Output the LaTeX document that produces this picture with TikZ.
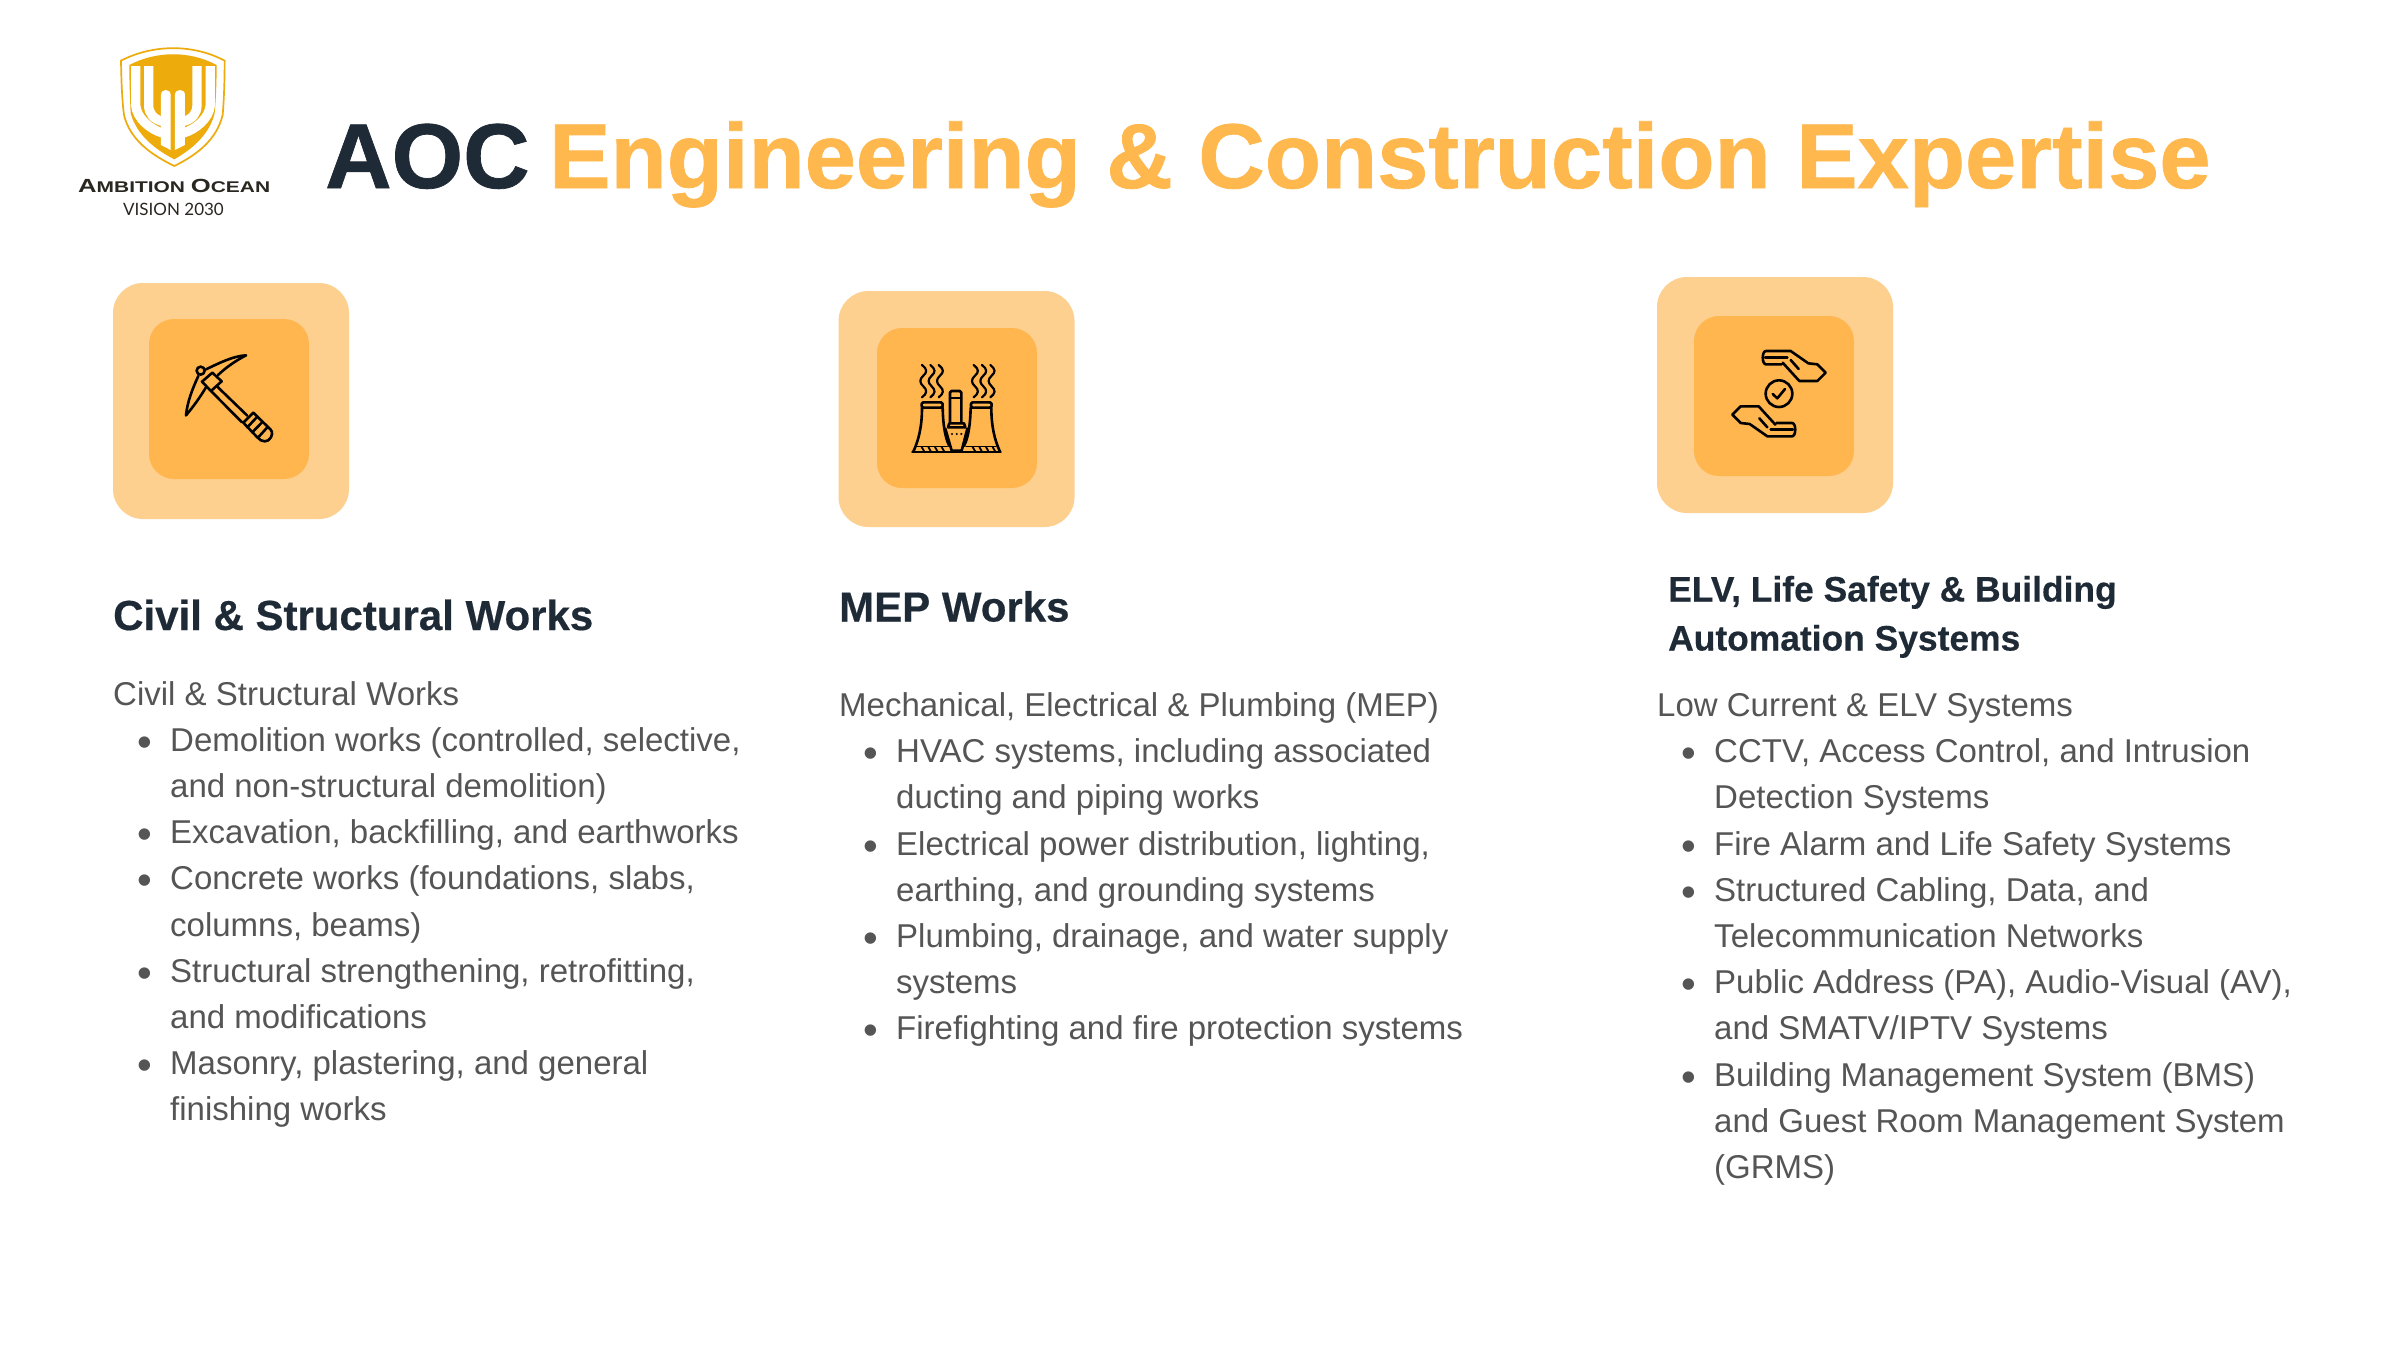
\documentclass[tikz,border=0pt]{standalone}
\usepackage{fontspec}
\setmainfont{Liberation Sans}[Ligatures=NoCommon]
\newfontfamily\headf{Liberation Sans}[BoldFont=* Bold,BoldFeatures={FakeBold=0.4}]
\newfontfamily\titlef{Liberation Sans}[BoldFont=* Bold,BoldFeatures={FakeBold=0.8}]
\newfontfamily\logof{Liberation Sans}[BoldFont=* Bold,BoldFeatures={FakeStretch=1.35}]
\newfontfamily\logov{Lato}
\definecolor{org}{HTML}{FFB84D}
\definecolor{outerb}{HTML}{FDD08F}
\definecolor{innerb}{HTML}{FFB64F}
\definecolor{dark}{HTML}{1F2A37}
\definecolor{gold}{HTML}{EDAB0C}
\definecolor{bodyc}{HTML}{555555}
\definecolor{logot}{HTML}{2A2620}
\tikzset{
 outerbox/.style={fill=outerb,rounded corners=30pt,minimum size=236pt,inner sep=0,draw=none},
 innerbox/.style={fill=innerb,rounded corners=25pt,minimum size=160pt,inner sep=0,draw=none},
 txt/.style={anchor=base west,inner sep=0},
 ico/.style={line width=2.6pt,line join=round,line cap=round,black},
}
\newcommand{\bl}[1]{\makebox[57pt][l]{\hspace*{24pt}\raisebox{-5pt}{\fontsize{42}{42}\selectfont\textbullet}}#1\\}
\newcommand{\cl}[1]{\hspace*{57pt}#1\\}
\newcommand{\bodyblock}[1]{\parbox[t]{800pt}{\fontsize{33}{46.2}\selectfont\parindent=0pt\raggedright #1}}
\newcommand{\wav}[1]{(#1-4,165) .. controls (#1+12,177) and (#1+12,187) .. (#1,197) .. controls (#1-12,208) and (#1-12,218) .. (#1,229) .. controls (#1+12,240) and (#1+12,250) .. (#1-4,262)}
\begin{document}
\begin{tikzpicture}[x=1pt,y=-1pt]
\useasboundingbox (0,0) rectangle (2400,1350);
\fill[white] (0,0) rectangle (2400,1350);

% logo
\begin{scope}[shift={(60,30)},x=0.3333pt,y=-0.3333pt]
 \draw[gold,line width=1.7pt] (183,92) .. controls (280,42) and (400,42) .. (494,92)
   .. controls (494,150) and (492,210) .. (488,255) .. controls (470,330) and (410,375) .. (343,408)
   .. controls (275,375) and (210,330) .. (192,255) .. controls (186,210) and (184,150) .. (183,92) -- cycle;
 \fill[gold] (208,105) .. controls (290,62) and (390,62) .. (470,105)
   .. controls (470,150) and (468,210) .. (464,250) .. controls (448,315) and (395,358) .. (343,388)
   .. controls (285,358) and (230,315) .. (212,250) .. controls (210,210) and (208,150) .. (208,105) -- cycle;
 \begin{scope}[white,line cap=butt]
  \draw[line width=9.3pt] (227,108) -- (227,225) .. controls (230,265) and (270,298) .. (310,310);
  \draw[line width=9.3pt] (266,108) -- (266,225) .. controls (266,250) and (280,268) .. (310,275);
  \draw[line width=9.3pt] (451,108) -- (451,225) .. controls (448,265) and (408,298) .. (368,310);
  \draw[line width=9.3pt] (411,108) -- (411,225) .. controls (411,250) and (397,268) .. (368,275);
  \fill (303,195) .. controls (303,175) and (332,175) .. (332,195) -- (332,360) -- (303,345) -- cycle;
  \fill (345,195) .. controls (345,175) and (375,175) .. (375,195) -- (375,345) -- (345,360) -- cycle;
 \end{scope}
\end{scope}
\node[txt,text=logot] (logoa) at (78,192) {\logof\bfseries\fontsize{19}{19}\selectfont A\fontsize{15.5}{16}\selectfont MBITION\ \fontsize{19}{19}\selectfont O\fontsize{15.5}{16}\selectfont CEAN};
\node[txt,text=logot] (logob) at (123,215) {\logov\fontsize{17}{18}\selectfont VISION 2030};

% title
\node[txt,text=dark] (aoc) at (325,188) {\titlef\bfseries\fontsize{92}{92}\selectfont AOC};
\node[txt,text=org] (ttl) at (549,188) {\titlef\bfseries\fontsize{92}{92}\selectfont Engineering \& Construction Expertise};

% boxes
\node[outerbox] (o1) at (231,401) {};
\node[innerbox] (i1) at (229,399) {};
\node[outerbox] (o2) at (956.5,409) {};
\node[innerbox] (i2) at (957,408) {};
\node[outerbox] (o3) at (1775,395) {};
\node[innerbox] (i3) at (1774,396) {};

% pickaxe
\begin{scope}[shift={(130,300)},x=0.3333pt,y=-0.3333pt,ico]
 \draw (212,212) circle (12);
 \draw (348,166) .. controls (310,168) and (270,188) .. (228,208);
 \draw (348,166) .. controls (312,185) and (285,205) .. (263,226);
 \draw (168,346) .. controls (172,305) and (188,265) .. (205,228);
 \draw (168,346) .. controls (190,320) and (210,292) .. (228,262);
 \draw (247,218) -- (275,244) -- (243,273) -- (216,245) -- cycle;
 \draw (262,260) -- (352,347);
 \draw (243,273) -- (336,367);
 \draw (370,338) -- (340,368) -- (382,412) .. controls (395,428) and (415,428) .. (423,412) .. controls (430,398) and (425,390) .. (415,382) -- cycle;
 \draw (382,350) -- (352,382);
 \draw (397,366) -- (367,397);
 \draw (412,382) -- (384,413);
\end{scope}

% plant
\begin{scope}[shift={(860,310)},x=0.3333pt,y=-0.3333pt,ico]
 \draw[line width=2.2pt] \wav{190} \wav{215} \wav{240} \wav{345} \wav{370} \wav{395};
 \draw[rounded corners=1.5pt] (185,277) rectangle (248,293);
 \draw[rounded corners=1.5pt] (333,277) rectangle (395,293);
 \draw (186,293) .. controls (186,350) and (176,390) .. (160,425);
 \draw (248,293) .. controls (249,340) and (254,380) .. (268,408);
 \draw (394,293) .. controls (394,350) and (404,390) .. (420,425);
 \draw (332,293) .. controls (331,340) and (326,380) .. (312,408);
 \draw (157,426) -- (422,426);
 \draw[line width=1.2pt] (172,410) -- (262,410);
 \draw[line width=1.2pt] (318,410) -- (408,410);
 \foreach \hx in {185,205,225,245,338,358,378,398} \draw[line width=1.8pt] (\hx,411) -- (\hx+8,425);
 \draw[rounded corners=1.5pt] (270,338) -- (270,243) -- (304,243) -- (304,338);
 \draw (270,264) -- (304,264);
 \draw (264,352) -- (268,340) -- (312,340) -- (316,352) -- cycle;
 \draw (256,356) -- (275,422) -- (305,422) -- (322,356);
 \foreach \dx in {276,290,304} \fill (\dx,372) circle (3.5);
\end{scope}

% hands
\begin{scope}[shift={(1680,295)},x=0.3333pt,y=-0.3333pt,ico]
 \draw (297,296) circle (40);
 \draw (278,297) -- (292,310) -- (315,282);
 \foreach \r in {0,180}{
  \begin{scope}[rotate around={\r:(297,296)}]
   \draw (305,208) -- (258,208) .. controls (245,208) and (245,168) .. (258,168) -- (332,168) -- (385,205) -- (412,208) -- (437,233) -- (412,258) -- (358,258) -- (308,203);
   \draw (255,188) -- (322,188);
   \draw (332,195) -- (356,222);
  \end{scope}
 }
\end{scope}

% headings
\node[txt,text=dark] (h1) at (113,630) {\headf\bfseries\fontsize{42}{42}\selectfont Civil \& Structural Works};
\node[txt,text=dark] (h2) at (839,621.5) {\headf\bfseries\fontsize{42}{42}\selectfont MEP Works};
\node[txt,text=dark] (h3) at (1668,601.5) {\parbox[t]{800pt}{\headf\bfseries\fontsize{35.4}{49}\selectfont ELV, Life Safety \& Building\\Automation Systems}};

% bodies
\node[txt,text=bodyc] (b1) at (113,705) {\bodyblock{Civil \& Structural Works\\
\bl{Demolition works (controlled, selective,}
\cl{and non-structural demolition)}
\bl{Excavation, backfilling, and earthworks}
\bl{Concrete works (foundations, slabs,}
\cl{columns, beams)}
\bl{Structural strengthening, retrofitting,}
\cl{and modifications}
\bl{Masonry, plastering, and general}
\cl{finishing works}}};
\node[txt,text=bodyc] (b2) at (839,716.5) {\bodyblock{Mechanical, Electrical \& Plumbing (MEP)\\
\bl{HVAC systems, including associated}
\cl{ducting and piping works}
\bl{Electrical power distribution, lighting,}
\cl{earthing, and grounding systems}
\bl{Plumbing, drainage, and water supply}
\cl{systems}
\bl{Firefighting and fire protection systems}}};
\node[txt,text=bodyc] (b3) at (1657,716.5) {\bodyblock{Low Current \& ELV Systems\\
\bl{CCTV, Access Control, and Intrusion}
\cl{Detection Systems}
\bl{Fire Alarm and Life Safety Systems}
\bl{Structured Cabling, Data, and}
\cl{Telecommunication Networks}
\bl{Public Address (PA), Audio-Visual (AV),}
\cl{and SMATV/IPTV Systems}
\bl{Building Management System (BMS)}
\cl{and Guest Room Management System}
\cl{(GRMS)}}};
\end{tikzpicture}
\end{document}
